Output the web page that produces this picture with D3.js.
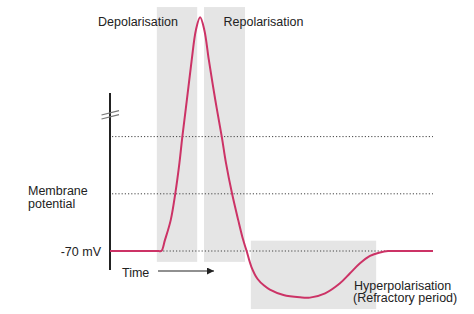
<!DOCTYPE html>
<meta charset="utf-8">
<style>
    body { margin: 0; background: #fff; }
    text {
        font: 12.5px "Liberation Sans", Arial, sans-serif;
        fill: #222;
    }
    .phase { fill: #e5e5e5; }
    .level {
        stroke: #444;
        stroke-width: 1px;
        stroke-dasharray: 1.2 2;
    }
    .trace {
        fill: none;
        stroke: #cc3366;
        stroke-width: 2px;
    }
    .axis-line { stroke: #222; stroke-width: 2px; }
    .break-mark { stroke: #777; stroke-width: 1.2px; }
</style>
<svg id="svg" width="474" height="314"></svg>

<script src="https://d3js.org/d3.v7.min.js"></script>
<script>

// time (arbitrary ms) and membrane potential (mV)
var traceTime = [0, 1.50, 1.59, 1.70, 1.88, 2.02, 2.15, 2.24, 2.38, 2.53, 2.66, 2.79,
                 2.92, 3.06, 3.26, 3.46, 3.59, 3.78, 3.97, 4.12, 4.23, 4.38,
                 4.57, 4.77, 4.95, 5.37, 5.88, 6.19, 6.66, 7.12, 7.43, 7.74, 8.05, 8.36, 8.61, 8.90, 10];
var traceMv = [-70, -70, -70, -66.2, -59.2, -50, -39.2, -30, -17.2, -3.2, 7.3, 11.7,
               7.3, -3.2, -17.2, -30, -39.2, -50, -59.2, -66.0, -70, -75.6,
               -79.8, -82.1, -83.5, -85.4, -86.2, -86.3, -84.8, -81.3, -77.8, -74.3, -71.7, -70.5, -70, -70, -70];

var levels = [-70, -50, -30];

var phaseNames = ["Depolarisation", "Repolarisation", "Hyperpolarisation"];
var phaseStart = [1.45, 2.91, 4.36];
var phaseEnd = [2.70, 4.18, 8.24];
var phaseTop = [15.3, 15.3, -66.4];
var phaseBottom = [-73.8, -73.8, -90.3];

var svg = d3.select("#svg");

var x = d3.scaleLinear().domain([0, 10]).range([110, 433]);
var y = d3.scaleLinear().domain([-70, -50]).range([251, 193.8]);

// grey phase bands
svg.selectAll(".phase")
    .data(phaseNames)
  .enter().append("rect")
    .attr("class", "phase")
    .attr("x", function(d, i) { return x(phaseStart[i]); })
    .attr("width", function(d, i) { return x(phaseEnd[i]) - x(phaseStart[i]); })
    .attr("y", function(d, i) { return y(phaseTop[i]); })
    .attr("height", function(d, i) { return y(phaseBottom[i]) - y(phaseTop[i]); });

// dotted reference levels
svg.selectAll(".level")
    .data(levels)
  .enter().append("line")
    .attr("class", "level")
    .attr("x1", x(0) + 2)
    .attr("x2", x(10))
    .attr("y1", function(d) { return y(d); })
    .attr("y2", function(d) { return y(d); });

// y axis with break
svg.append("line")
    .attr("class", "axis-line")
    .attr("x1", x(0)).attr("x2", x(0))
    .attr("y1", 93).attr("y2", 270);

[0, 4].forEach(function(off) {
  svg.append("line")
      .attr("class", "break-mark")
      .attr("x1", x(0) - 8.5).attr("y1", 115 + off)
      .attr("x2", x(0) + 9).attr("y2", 110.7 + off);
});

var line = d3.line()
    .x(function(d, i) { return x(traceTime[i]); })
    .y(function(d) { return y(d); })
    .curve(d3.curveCatmullRom.alpha(0.5));

svg.append("path")
    .datum(traceMv)
    .attr("class", "trace")
    .attr("d", line);

// labels
svg.append("text").attr("x", 98).attr("y", 25.5).text(phaseNames[0]);
svg.append("text").attr("x", 223.5).attr("y", 25.5).text(phaseNames[1]);
svg.append("text").attr("x", 354).attr("y", 289.5).text(phaseNames[2]);
svg.append("text").attr("x", 353).attr("y", 302).text("(Refractory period)");

svg.append("text").attr("x", 28).attr("y", 195).text("Membrane");
svg.append("text").attr("x", 28).attr("y", 208).text("potential");

svg.append("text")
    .attr("x", 101).attr("y", y(-70) + 4.5)
    .attr("text-anchor", "end")
    .text("-70 mV");

svg.append("text").attr("x", 122).attr("y", 276.5).text("Time");

svg.append("defs").append("marker")
    .attr("id", "arrow")
    .attr("viewBox", "0 0 10 10")
    .attr("refX", 10).attr("refY", 5)
    .attr("markerWidth", 7).attr("markerHeight", 7)
    .attr("markerUnits", "userSpaceOnUse")
    .attr("orient", "auto")
  .append("path")
    .attr("d", "M0,0L10,5L0,10Z")
    .attr("fill", "#222");

svg.append("line")
    .attr("x1", 158).attr("x2", 214)
    .attr("y1", 271).attr("y2", 271)
    .attr("stroke", "#222")
    .attr("stroke-width", 1.2)
    .attr("marker-end", "url(#arrow)");

</script>
